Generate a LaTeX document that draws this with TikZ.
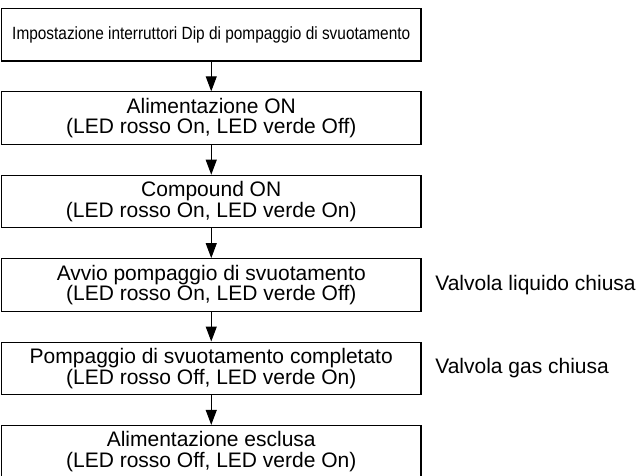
\documentclass[tikz,border=0pt]{standalone}
\usepackage{fontspec}
\setmainfont{Liberation Sans}
\newfontfamily\narrowfont[FakeStretch=0.87]{Liberation Sans}
\usetikzlibrary{arrows.meta,positioning}
\begin{document}
\begin{tikzpicture}[x=1bp,y=-1bp,
  box/.style={draw, line width=1.2bp, minimum width=419.5bp, minimum height=52.5bp,
    inner sep=0pt, align=center, font=\fontsize{21bp}{20.5bp}\selectfont},
  topbox/.style={box, font=\narrowfont\fontsize{17.7bp}{20bp}\selectfont},
  note/.style={inner sep=0pt, font=\fontsize{21bp}{20.5bp}\selectfont},
  flow/.style={line width=1bp, -{Triangle[length=15bp,width=11bp]}}]
\useasboundingbox (0,0) rectangle (643,476);
\node[topbox] (b1) at (211.25,34.75) {Impostazione interruttori Dip di pompaggio di svuotamento};
\node[box] (b2) at (211.25,118.15) {Alimentazione ON\\(LED rosso On, LED verde Off)};
\node[box] (b3) at (211.25,201.55) {Compound ON\\(LED rosso On, LED verde On)};
\node[box] (b4) at (211.25,284.95) {Avvio pompaggio di svuotamento\\(LED rosso On, LED verde Off)};
\node[box] (b5) at (211.25,368.35) {Pompaggio di svuotamento completato\\(LED rosso Off, LED verde On)};
\node[box] (b6) at (211.25,451.75) {Alimentazione esclusa\\(LED rosso Off, LED verde On)};
\node[note, right=13.5bp of b4] (l1) {Valvola liquido chiusa};
\node[note, right=13.5bp of b5] (l2) {Valvola gas chiusa};
\draw[flow] (b1) -- (b2);
\draw[flow] (b2) -- (b3);
\draw[flow] (b3) -- (b4);
\draw[flow] (b4) -- (b5);
\draw[flow] (b5) -- (b6);
\end{tikzpicture}
\end{document}
